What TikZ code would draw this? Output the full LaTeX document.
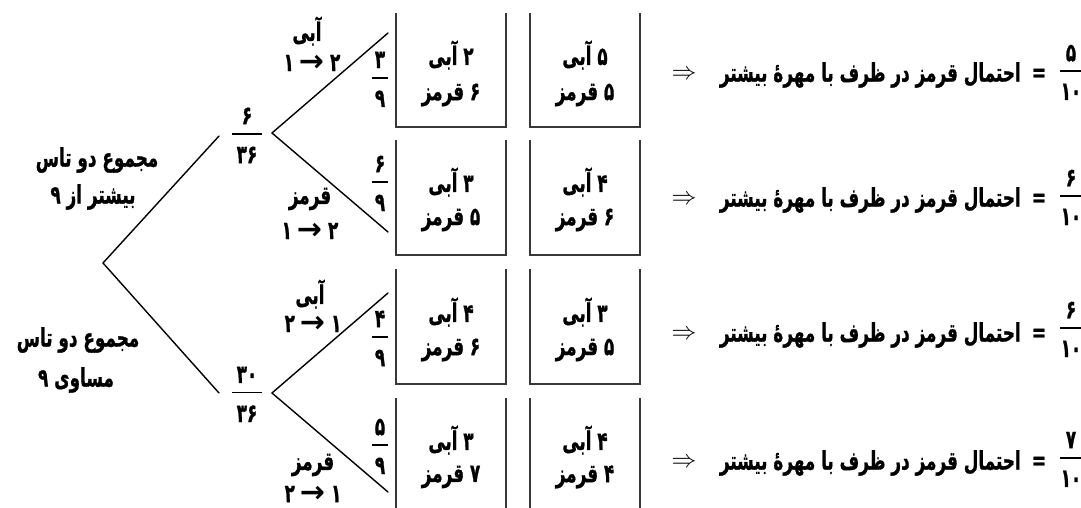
\documentclass[tikz,border=0pt]{standalone}
\usepackage{fontspec}
\newfontfamily\fa[Script=Arabic, BoldFeatures={FakeBold=1.2}]{DejaVu Sans}
\newfontfamily\dv{DejaVu Sans}
\TeXXeTstate=1
\newcommand{\T}[1]{\scalebox{0.66}[1]{\beginR #1\endR}}
\newcommand{\N}[1]{\scalebox{0.66}[1]{#1}}
\newcommand{\frc}[3]{{\def\arraystretch{0.62}\begin{tabular}{@{}c@{}}\N{#2}\\\rule[0.27em]{#1}{1.6pt}\\\N{#3}\end{tabular}}}
\newcommand{\arr}[2]{\N{#1}\hspace{5pt}{\dv\bfseries\fontsize{30}{30}\selectfont →}\hspace{6pt}\N{#2}}
\tikzset{
  lbl/.style={font=\fa\bfseries\fontsize{25.5}{28}\selectfont, inner sep=0pt},
  frac/.style={font=\fa\bfseries\fontsize{25.5}{28}\selectfont, inner sep=0pt},
  boxline/.style={draw=black!78, line width=1.3pt},
  br/.style={line width=1.4pt, line cap=round},
}
\begin{document}
\begin{tikzpicture}[x=1pt,y=-1pt]
\useasboundingbox[fill=white] (0,0) rectangle (1081,508);
% tree
\coordinate (r) at (103,263);
\coordinate (a1) at (219,136);
\coordinate (a2) at (219,393);
\coordinate (v1) at (272,133);
\coordinate (v2) at (272,393);
\coordinate (b1) at (388,33);
\coordinate (b2) at (388,232);
\coordinate (b3) at (388,293);
\coordinate (b4) at (388,492);
\draw[br] (a1) -- (r) -- (a2);
\draw[br] (b1) -- (v1) -- (b2);
\draw[br] (b3) -- (v2) -- (b4);
% fractions on tree
\node[frac] (f1) at (247,138) {\frc{30pt}{۶}{۳۶}};
\node[frac] (f2) at (247,397) {\frc{30pt}{۳۰}{۳۶}};
\node[frac] (g1) at (380,82) {\frc{16pt}{۳}{۹}};
\node[frac] (g2) at (380,186) {\frc{16pt}{۶}{۹}};
\node[frac] (g3) at (380,341) {\frc{16pt}{۴}{۹}};
\node[frac] (g4) at (380,449) {\frc{16pt}{۵}{۹}};
% root labels
\node[lbl] (t1) at (97,160) {\T{مجموع دو تاس}};
\node[lbl] (t2) at (93,197) {\T{بیشتر از ۹}};
\node[lbl] (t3) at (78,340) {\T{مجموع دو تاس}};
\node[lbl] (t4) at (76,380) {\T{مساوی ۹}};
% branch labels
\node[lbl] (c1) at (307,31) {\T{آبی}};
\node[lbl] (c1n) at (312,63) {\arr{۱}{۲}};
\node[lbl] (c2) at (310,199) {\T{قرمز}};
\node[lbl] (c2n) at (310,231) {\arr{۱}{۲}};
\node[lbl] (c3) at (310,294) {\T{آبی}};
\node[lbl] (c3n) at (313,324) {\arr{۲}{۱}};
\node[lbl] (c4) at (313,465) {\T{قرمز}};
\node[lbl] (c4n) at (313,494) {\arr{۲}{۱}};
% containers
\draw[boxline] (396,13) -- (396,127) -- (506,127) -- (506,13);
\draw[boxline] (530,13) -- (530,127) -- (640,127) -- (640,13);
\draw[boxline] (396,140) -- (396,255) -- (506,255) -- (506,140);
\draw[boxline] (530,140) -- (530,255) -- (640,255) -- (640,140);
\draw[boxline] (396,269) -- (396,384) -- (506,384) -- (506,269);
\draw[boxline] (530,269) -- (530,384) -- (640,384) -- (640,269);
\draw[boxline] (396,398) -- (396,515);
\draw[boxline] (506,398) -- (506,515);
\draw[boxline] (530,398) -- (530,515);
\draw[boxline] (640,398) -- (640,515);
% container contents
\node[lbl] (k1a) at (451,55) {\T{۲ آبی}};
\node[lbl] (k1b) at (451,95) {\T{۶ قرمز}};
\node[lbl] (k2a) at (585,55) {\T{۵ آبی}};
\node[lbl] (k2b) at (585,95) {\T{۵ قرمز}};
\node[lbl] (k3a) at (451,182) {\T{۳ آبی}};
\node[lbl] (k3b) at (451,220) {\T{۵ قرمز}};
\node[lbl] (k4a) at (585,182) {\T{۴ آبی}};
\node[lbl] (k4b) at (585,220) {\T{۶ قرمز}};
\node[lbl] (k5a) at (451,312) {\T{۴ آبی}};
\node[lbl] (k5b) at (451,350) {\T{۶ قرمز}};
\node[lbl] (k6a) at (585,312) {\T{۳ آبی}};
\node[lbl] (k6b) at (585,350) {\T{۵ قرمز}};
\node[lbl] (k7a) at (451,440) {\T{۳ آبی}};
\node[lbl] (k7b) at (451,477) {\T{۷ قرمز}};
\node[lbl] (k8a) at (585,440) {\T{۴ آبی}};
\node[lbl] (k8b) at (585,477) {\T{۴ قرمز}};
% results
\foreach \i/\y/\fy/\n in {1/75/75/۵, 2/200/200/۶, 3/335/332/۶, 4/463/462/۷}{
  \node[lbl] (arr\i) at (684,\y) {\fontsize{23}{23}\selectfont$\Rightarrow$};
  \node[lbl, anchor=east] (txt\i) at (1021,\y) {\T{احتمال قرمز در ظرف با مهرهٔ بیشتر}};
  \node[lbl] (eq\i) at (1039,\y) {\N{=}};
  \node[frac] (res\i) at (1071,\fy) {\frc{22pt}{\n}{۱۰}};
}
\end{tikzpicture}
\end{document}
